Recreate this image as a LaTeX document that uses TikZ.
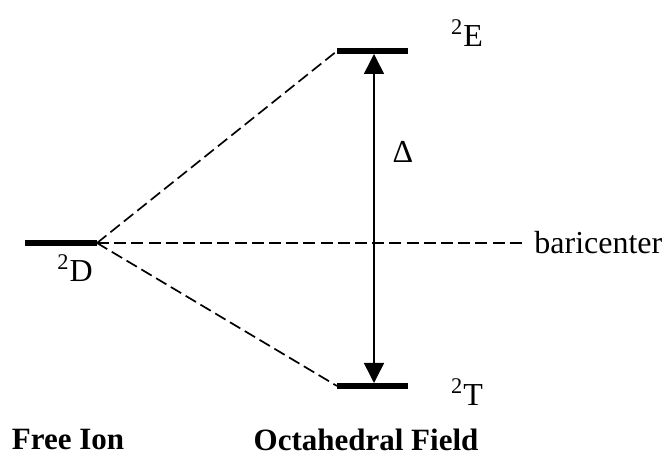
\documentclass[tikz,border=0pt]{standalone}
\usepackage{fontspec}
\setmainfont{Liberation Serif}
\usepackage{tikz}
\usetikzlibrary{arrows.meta,positioning}
\tikzset{
  level/.style={line width=2.6pt},
  split/.style={dash pattern=on 6pt off 2.6pt,line width=0.85pt},
  lbl/.style={font=\fontsize{16}{19}\selectfont,inner sep=0pt},
  foot/.style={font=\fontsize{15.5}{19}\selectfont\bfseries,inner sep=0pt}
}

\begin{document}
\begin{tikzpicture}[x=0.5pt,y=-0.5pt]
        \useasboundingbox (0,0) rectangle (668,458);
        % levels
        \coordinate (dL) at (25,243);  \coordinate (dR) at (97,243);
        \coordinate (eL) at (337,51);  \coordinate (eR) at (408,51);
        \coordinate (tL) at (337,386); \coordinate (tR) at (408,386);
        \coordinate (eM) at (374,51);  \coordinate (tM) at (374,386);
        \coordinate (bc) at (526,243);
        \draw[level] (dL)--(dR);
        \draw[level] (eL)--(eR);
        \draw[level] (tL)--(tR);
        % splitting
        \draw[split] (dR)--(eL);
        \draw[split] (dR)--(tL);
        \draw[split] (dR)--(bc);
        \draw[{Triangle[length=10pt,width=10pt]}-{Triangle[length=10pt,width=10pt]},line width=0.75pt]
          ([yshift=-1.5pt]eM)--([yshift=1.5pt]tM);
        % labels
        \node[lbl] (D) at (75,268) {\textsuperscript{2}D};
        \node[lbl] (E) at (467,33) {\textsuperscript{2}E};
        \node[lbl] (T) at (467,392) {\textsuperscript{2}T};
        \node[lbl] (gap) at (403,152) {Δ};
        \node[lbl,anchor=west] (bar) at (534,243) {baricenter};
        \node[foot] (free) at (68,440) {Free Ion};
        \node[foot] (oct) at (366,440) {Octahedral Field};
      \end{tikzpicture}
\end{document}
